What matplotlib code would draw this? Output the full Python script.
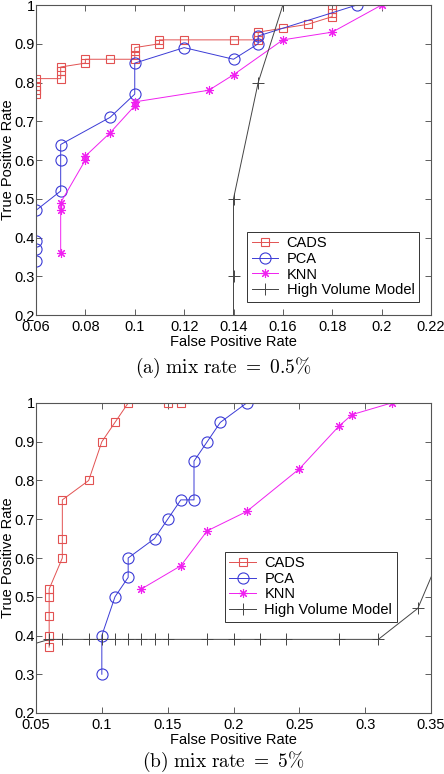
import matplotlib
matplotlib.use("Agg")
import matplotlib.pyplot as plt

plt.rcParams['font.family'] = ['Liberation Sans', 'DejaVu Sans']
plt.rcParams['mathtext.fontset'] = 'cm'

# ---------------- Data: (a) mix rate = 0.5% ----------------
a_cads_x = [0.06, 0.06, 0.06, 0.06, 0.07, 0.07, 0.07, 0.08, 0.08, 0.09, 0.10, 0.10, 0.10,
            0.11, 0.11, 0.12, 0.14, 0.15, 0.15, 0.15, 0.16, 0.17, 0.18, 0.18, 0.18]
a_cads_y = [0.77, 0.78, 0.79, 0.81, 0.81, 0.83, 0.84, 0.85, 0.86, 0.86, 0.86, 0.87, 0.89,
            0.90, 0.91, 0.91, 0.91, 0.91, 0.92, 0.93, 0.94, 0.95, 0.97, 0.98, 0.99]
a_pca_x = [0.06, 0.06, 0.06, 0.06, 0.07, 0.07, 0.07, 0.09, 0.10, 0.10, 0.12, 0.14, 0.15, 0.15, 0.19]
a_pca_y = [0.34, 0.37, 0.39, 0.47, 0.52, 0.60, 0.64, 0.71, 0.77, 0.85, 0.89, 0.86, 0.90, 0.92, 1.00]
a_knn_x = [0.07, 0.07, 0.07, 0.08, 0.08, 0.09, 0.10, 0.10, 0.13, 0.14, 0.16, 0.18, 0.20]
a_knn_y = [0.36, 0.47, 0.49, 0.60, 0.61, 0.67, 0.74, 0.75, 0.78, 0.82, 0.91, 0.93, 1.00]
a_hvm_x = [0.14, 0.14, 0.14, 0.15, 0.16]
a_hvm_y = [0.00, 0.30, 0.50, 0.80, 1.00]

# ---------------- Data: (b) mix rate = 5% ----------------
b_cads_x = [0.06, 0.06, 0.06, 0.06, 0.06, 0.07, 0.07, 0.07, 0.09, 0.10, 0.11, 0.12, 0.15, 0.16]
b_cads_y = [0.37, 0.40, 0.45, 0.50, 0.52, 0.60, 0.65, 0.75, 0.80, 0.90, 0.95, 1.00, 1.00, 1.00]
b_pca_x = [0.10, 0.10, 0.11, 0.12, 0.12, 0.14, 0.15, 0.16, 0.17, 0.17, 0.18, 0.19, 0.21]
b_pca_y = [0.30, 0.40, 0.50, 0.55, 0.60, 0.65, 0.70, 0.75, 0.75, 0.85, 0.90, 0.95, 1.00]
b_knn_x = [0.13, 0.16, 0.18, 0.21, 0.25, 0.28, 0.29, 0.32]
b_knn_y = [0.52, 0.58, 0.67, 0.72, 0.83, 0.94, 0.97, 1.00]
b_hvm_x = [0.04, 0.06, 0.07, 0.09, 0.10, 0.11, 0.12, 0.13, 0.14, 0.15, 0.18, 0.20, 0.22,
           0.24, 0.28, 0.31, 0.34, 0.36]
b_hvm_y = [0.37, 0.39, 0.39, 0.39, 0.39, 0.39, 0.39, 0.39, 0.39, 0.39, 0.39, 0.39, 0.39,
           0.39, 0.39, 0.39, 0.47, 0.63]

labels = ["CADS", "PCA", "KNN", "High Volume Model"]
a_xticks = [0.06, 0.08, 0.10, 0.12, 0.14, 0.16, 0.18, 0.20, 0.22]
a_xticklabels = ["0.06", "0.08", "0.1", "0.12", "0.14", "0.16", "0.18", "0.2", "0.22"]
b_xticks = [0.05, 0.10, 0.15, 0.20, 0.25, 0.30, 0.35]
b_xticklabels = ["0.05", "0.1", "0.15", "0.2", "0.25", "0.3", "0.35"]
yticks = [0.2, 0.3, 0.4, 0.5, 0.6, 0.7, 0.8, 0.9, 1.0]
yticklabels = ["0.2", "0.3", "0.4", "0.5", "0.6", "0.7", "0.8", "0.9", "1"]
captions = [r"$\mathrm{(a)\ mix\ rate}\ =\ 0.5\%$", r"$\mathrm{(b)\ mix\ rate}\ =\ 5\%$"]

RED = "#e25252"
BLUE = "#3b3bd6"
MAG = "#f020f0"
BLK = "#444444"
STAR = (8, 2, 0)

W, H = 444, 774
fig = plt.figure(figsize=(W / 100, H / 100), dpi=100)

def px_axes(l, t, r, b):
    return fig.add_axes([l / W, 1 - b / H, (r - l) / W, (b - t) / H])

ax1 = px_axes(36, 5, 431, 315)
ax2 = px_axes(36, 403, 431, 713)

def draw(ax, cx, cy, px, py, kx, ky, hx, hy, xticks, xtl, xlim, legbb):
    lw = 0.7
    ax.plot(cx, cy, color=RED, lw=lw, marker='s', ms=5.5, mfc='none', mec=RED, mew=0.8, label=labels[0])
    ax.plot(px, py, color=BLUE, lw=lw, marker='o', ms=8, mfc='none', mec=BLUE, mew=0.8, label=labels[1])
    ax.plot(kx, ky, color=MAG, lw=lw, marker=STAR, ms=6.5, mfc='none', mec=MAG, mew=0.8, label=labels[2])
    ax.plot(hx, hy, color=BLK, lw=lw, marker='+', ms=8, mec=BLK, mew=0.7, label=labels[3])
    ax.set_xlim(*xlim)
    ax.set_ylim(0.2, 1.0)
    ax.set_xticks(xticks)
    ax.set_xticklabels(xtl)
    ax.set_yticks(yticks)
    ax.set_yticklabels(yticklabels)
    ax.tick_params(direction='in', length=4, width=0.6, top=True, right=True,
                   labelsize=10.5, colors='#444444', labelcolor='black')
    ax.tick_params(axis='x', pad=3.5)
    ax.tick_params(axis='y', pad=1)
    for s in ax.spines.values():
        s.set_linewidth(0.8)
        s.set_color('#555555')
    ax.set_xlabel("False Positive Rate", fontsize=10.5, labelpad=1)
    ax.set_ylabel("True Positive Rate", fontsize=10.5, va='center')
    ax.yaxis.set_label_coords(-0.072, 0.5)
    leg = ax.legend(loc='lower right', bbox_to_anchor=legbb, borderaxespad=0,
                    fontsize=10.5, fancybox=False, edgecolor='#333333', framealpha=1,
                    handlelength=1.8, handletextpad=0.6, labelspacing=0.12,
                    borderpad=0.3)
    leg.get_frame().set_linewidth(0.7)

draw(ax1, a_cads_x, a_cads_y, a_pca_x, a_pca_y, a_knn_x, a_knn_y, a_hvm_x, a_hvm_y,
     a_xticks, a_xticklabels, (0.06, 0.22), (0.969, 0.043))
draw(ax2, b_cads_x, b_cads_y, b_pca_x, b_pca_y, b_knn_x, b_knn_y, b_hvm_x, b_hvm_y,
     b_xticks, b_xticklabels, (0.05, 0.35), (0.913, 0.295))

fig.text(223 / W, 1 - 368 / H, captions[0], ha='center', va='center', fontsize=14)
fig.text(223 / W, 1 - 762 / H, captions[1], ha='center', va='center', fontsize=14)

fig.savefig("out.png", dpi=100)
